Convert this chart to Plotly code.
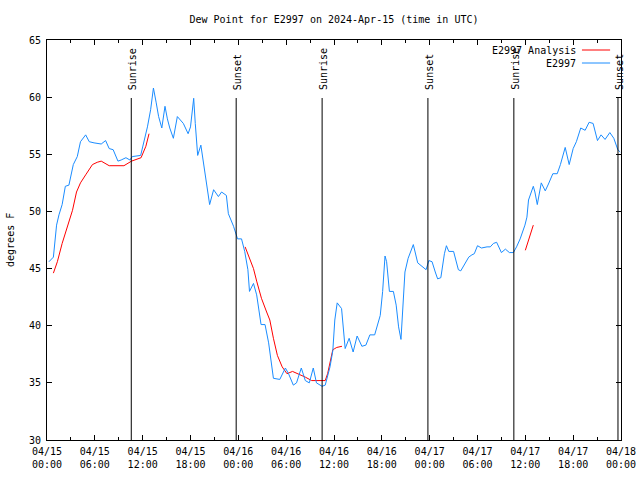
import pandas as pd
import plotly.graph_objects as go

START = pd.Timestamp("2024-04-15 00:00")

# E2997 observations: hours since 2024-04-15 00:00 UTC, dew point (F)
obs_hours = [0.25, 0.8, 1.2, 1.5, 1.9, 2.3, 2.75, 3.3, 3.8, 4.2, 4.85, 5.3, 5.9, 6.8, 7.35, 7.8,
             8.3, 8.9, 9.3, 9.9, 10.4, 10.7, 11.75, 12.2, 12.6, 13.0, 13.35, 13.7, 14.0, 14.4,
             14.8, 15.1, 15.4, 15.85, 16.35, 17.1, 17.7, 18.0, 18.4, 18.6, 18.9, 19.3, 19.5,
             19.95, 20.4, 20.9, 21.5, 21.9, 22.5, 22.75, 23.4, 23.9, 24.4, 24.8, 25.2, 25.4,
             25.9, 26.3, 26.85, 27.35, 27.8, 28.4, 29.2, 29.9, 30.3, 30.9, 31.3, 31.9, 32.4,
             32.9, 33.4, 33.8, 34.5, 34.9, 35.5, 35.85, 36.1, 36.4, 36.95, 37.4, 37.9, 38.4,
             38.9, 39.5, 40.0, 40.5, 41.1, 41.8, 42.1, 42.4, 42.6, 42.95, 43.45, 43.8, 44.1,
             44.4, 44.7, 44.9, 45.3, 45.95, 46.5, 47.0, 47.55, 47.9, 48.3, 48.7, 49.0, 49.4,
             49.85, 50.1, 50.4, 51.0, 51.6, 51.9, 52.45, 52.9, 53.3, 53.6, 54.0, 54.5, 55.2,
             55.6, 56.0, 56.4, 57.0, 57.5, 58.0, 58.5, 58.9, 59.35, 59.95, 60.2, 60.4, 60.7,
             61.0, 61.2, 61.5, 62.0, 62.5, 62.9, 63.45, 64.0, 64.4, 65.0, 65.5, 66.0, 66.4,
             66.95, 67.5, 68.0, 68.5, 69.05, 69.5, 70.0, 70.6, 71.1, 71.6, 71.9]
obs_values = [45.6, 46.0, 48.8, 49.7, 50.6, 52.2, 52.3, 54.1, 54.8, 56.1, 56.7, 56.1, 56.0, 55.9,
              56.2, 55.5, 55.4, 54.4, 54.5, 54.7, 54.5, 54.8, 54.9, 56.2, 57.4, 58.9, 60.8, 59.5,
              58.3, 57.3, 59.2, 58.1, 57.3, 56.4, 58.3, 57.7, 56.8, 57.4, 59.9, 57.7, 54.9, 55.8,
              54.9, 53.0, 50.6, 51.9, 51.3, 51.7, 51.4, 49.8, 48.7, 47.6, 47.6, 46.5, 44.9, 43.0,
              43.7, 42.7, 40.1, 40.1, 38.5, 35.4, 35.3, 36.3, 35.8, 34.8, 35.0, 36.3, 35.2, 35.0,
              36.3, 35.0, 34.7, 34.8, 36.4, 37.8, 40.5, 42.0, 41.5, 38.0, 38.9, 37.7, 39.1, 38.2,
              38.3, 39.2, 39.2, 40.9, 43.0, 46.1, 45.6, 43.0, 43.0, 41.8, 39.9, 38.8, 42.2, 44.7,
              45.9, 47.1, 45.5, 45.2, 44.9, 45.7, 45.6, 44.7, 44.1, 44.2, 46.3, 47.0, 46.5, 46.5,
              44.9, 44.8, 45.5, 46.0, 46.2, 46.3, 47.0, 46.8, 46.9, 46.9, 47.2, 47.3, 46.4, 46.7,
              46.4, 46.4, 46.9, 47.6, 48.8, 49.5, 51.0, 51.6, 52.2, 51.7, 50.6, 52.5, 51.8, 52.4,
              53.3, 53.3, 54.1, 55.6, 54.1, 55.5, 56.1, 57.3, 57.1, 57.8, 57.7, 56.2, 56.7, 56.3,
              56.9, 56.4, 55.4, 55.2]

# E2997 Analysis segments (None breaks the line)
ana_hours = [0.8, 1.3, 1.9, 2.55, 3.2, 3.7, 4.2, 4.85, 5.7, 6.3, 6.8, 7.8, 8.8, 9.65, 10.6, 11.25,
             11.8, 12.4, 12.8, None,
             24.85, 25.35, 25.9, 26.3, 26.9, 27.55, 27.95, 28.4, 28.9, 29.5, 30.1, 30.8, 31.5,
             32.4, 33.2, 34.0, 34.9, 35.2, 35.5, 35.85, 36.1, 36.35, 37.0, None,
             60.0, 61.0]
ana_values = [44.6, 45.6, 47.2, 48.7, 50.1, 51.7, 52.5, 53.2, 54.1, 54.3, 54.4, 54.0, 54.0, 54.0,
              54.4, 54.6, 54.7, 55.7, 56.8, None,
              46.9, 45.9, 45.0, 43.9, 42.4, 41.2, 40.5, 38.9, 37.4, 36.4, 35.8, 36.0, 35.8, 35.5,
              35.2, 35.2, 35.2, 35.8, 36.9, 37.9, 38.0, 38.1, 38.2, None,
              46.6, 48.8]

sun_labels = ["Sunrise", "Sunset", "Sunrise", "Sunset", "Sunrise", "Sunset"]
sun_hours = [10.57, 23.73, 34.51, 47.78, 58.56, 71.62]

tick_hours = list(range(0, 73, 6))
tick_labels = ["04/15<br>00:00", "04/15<br>06:00", "04/15<br>12:00", "04/15<br>18:00",
               "04/16<br>00:00", "04/16<br>06:00", "04/16<br>12:00", "04/16<br>18:00",
               "04/17<br>00:00", "04/17<br>06:00", "04/17<br>12:00", "04/17<br>18:00",
               "04/18<br>00:00"]


def to_time(hs):
    return [START + pd.Timedelta(hours=h) if h is not None else None for h in hs]


FONT = "DejaVu Sans Mono"
RED = "#ff0000"
BLUE = "#1a8cff"

fig = go.Figure()
fig.add_trace(go.Scatter(x=to_time(ana_hours), y=ana_values, mode="lines",
                         line=dict(color=RED, width=1), name="E2997 Analysis",
                         connectgaps=False))
fig.add_trace(go.Scatter(x=to_time(obs_hours), y=obs_values, mode="lines",
                         line=dict(color=BLUE, width=1), name="E2997"))

shapes = []
annotations = []
for lab, h in zip(sun_labels, sun_hours):
    t = START + pd.Timedelta(hours=h)
    shapes.append(dict(type="line", xref="x", yref="paper", x0=t, x1=t, y0=0, y1=0.855,
                       line=dict(color="black", width=1)))
    annotations.append(dict(text=lab, xref="x", yref="paper", x=t, y=0.87, textangle=-90,
                            xanchor="center", yanchor="bottom", showarrow=False, xshift=1,
                            font=dict(family=FONT, size=10, color="black")))

# manual legend (gnuplot style: text then sample line)
leg = [("E2997 Analysis", RED, 0.975), ("E2997", BLUE, 0.9425)]
for txt, col, yy in leg:
    annotations.append(dict(text=txt, xref="paper", yref="paper", x=0.925, y=yy,
                            xanchor="right", yanchor="middle", showarrow=False,
                            font=dict(family=FONT, size=10, color="black")))
    shapes.append(dict(type="line", xref="paper", yref="paper", x0=0.932, x1=0.981,
                       y0=yy, y1=yy, line=dict(color=col, width=1)))

annotations.append(dict(text="degrees F", xref="paper", yref="paper", x=-0.0645, y=0.5,
                        textangle=-90, xanchor="center", yanchor="middle", showarrow=False,
                        font=dict(family=FONT, size=10, color="black")))

fig.update_layout(
    width=640, height=480,
    margin=dict(l=47, r=19, t=40, b=40),
    paper_bgcolor="white", plot_bgcolor="white",
    showlegend=False,
    title=dict(text="Dew Point for E2997 on 2024-Apr-15 (time in UTC)", x=0.5, xref="paper",
               y=1 - 19 / 480, yanchor="middle",
               font=dict(family=FONT, size=10, color="black")),
    font=dict(family=FONT, size=10, color="black"),
    shapes=shapes, annotations=annotations,
)
fig.update_xaxes(range=[START, START + pd.Timedelta(hours=72)], automargin=False,
                 tickvals=to_time(tick_hours), ticktext=tick_labels, ticklabelstandoff=2,
                 ticks="inside", ticklen=5, tickcolor="black", mirror="ticks",
                 showline=True, linecolor="black", linewidth=1, showgrid=False, zeroline=False,
                 minor=dict(ticks="inside", ticklen=3, dtick=3 * 3600000, tickcolor="black",
                            showgrid=False),
                 tickfont=dict(family=FONT, size=10, color="black"))
fig.update_yaxes(range=[30, 65], dtick=5, tick0=30, automargin=False, ticklabelstandoff=3,
                 ticks="inside", ticklen=5, tickcolor="black", mirror="ticks",
                 showline=True, linecolor="black", linewidth=1, showgrid=False, zeroline=False,
                 tickfont=dict(family=FONT, size=10, color="black"))

fig.write_html("out.html", config={"displayModeBar": False},
               post_script="document.body.style.margin='0';document.body.style.overflow='hidden';")
